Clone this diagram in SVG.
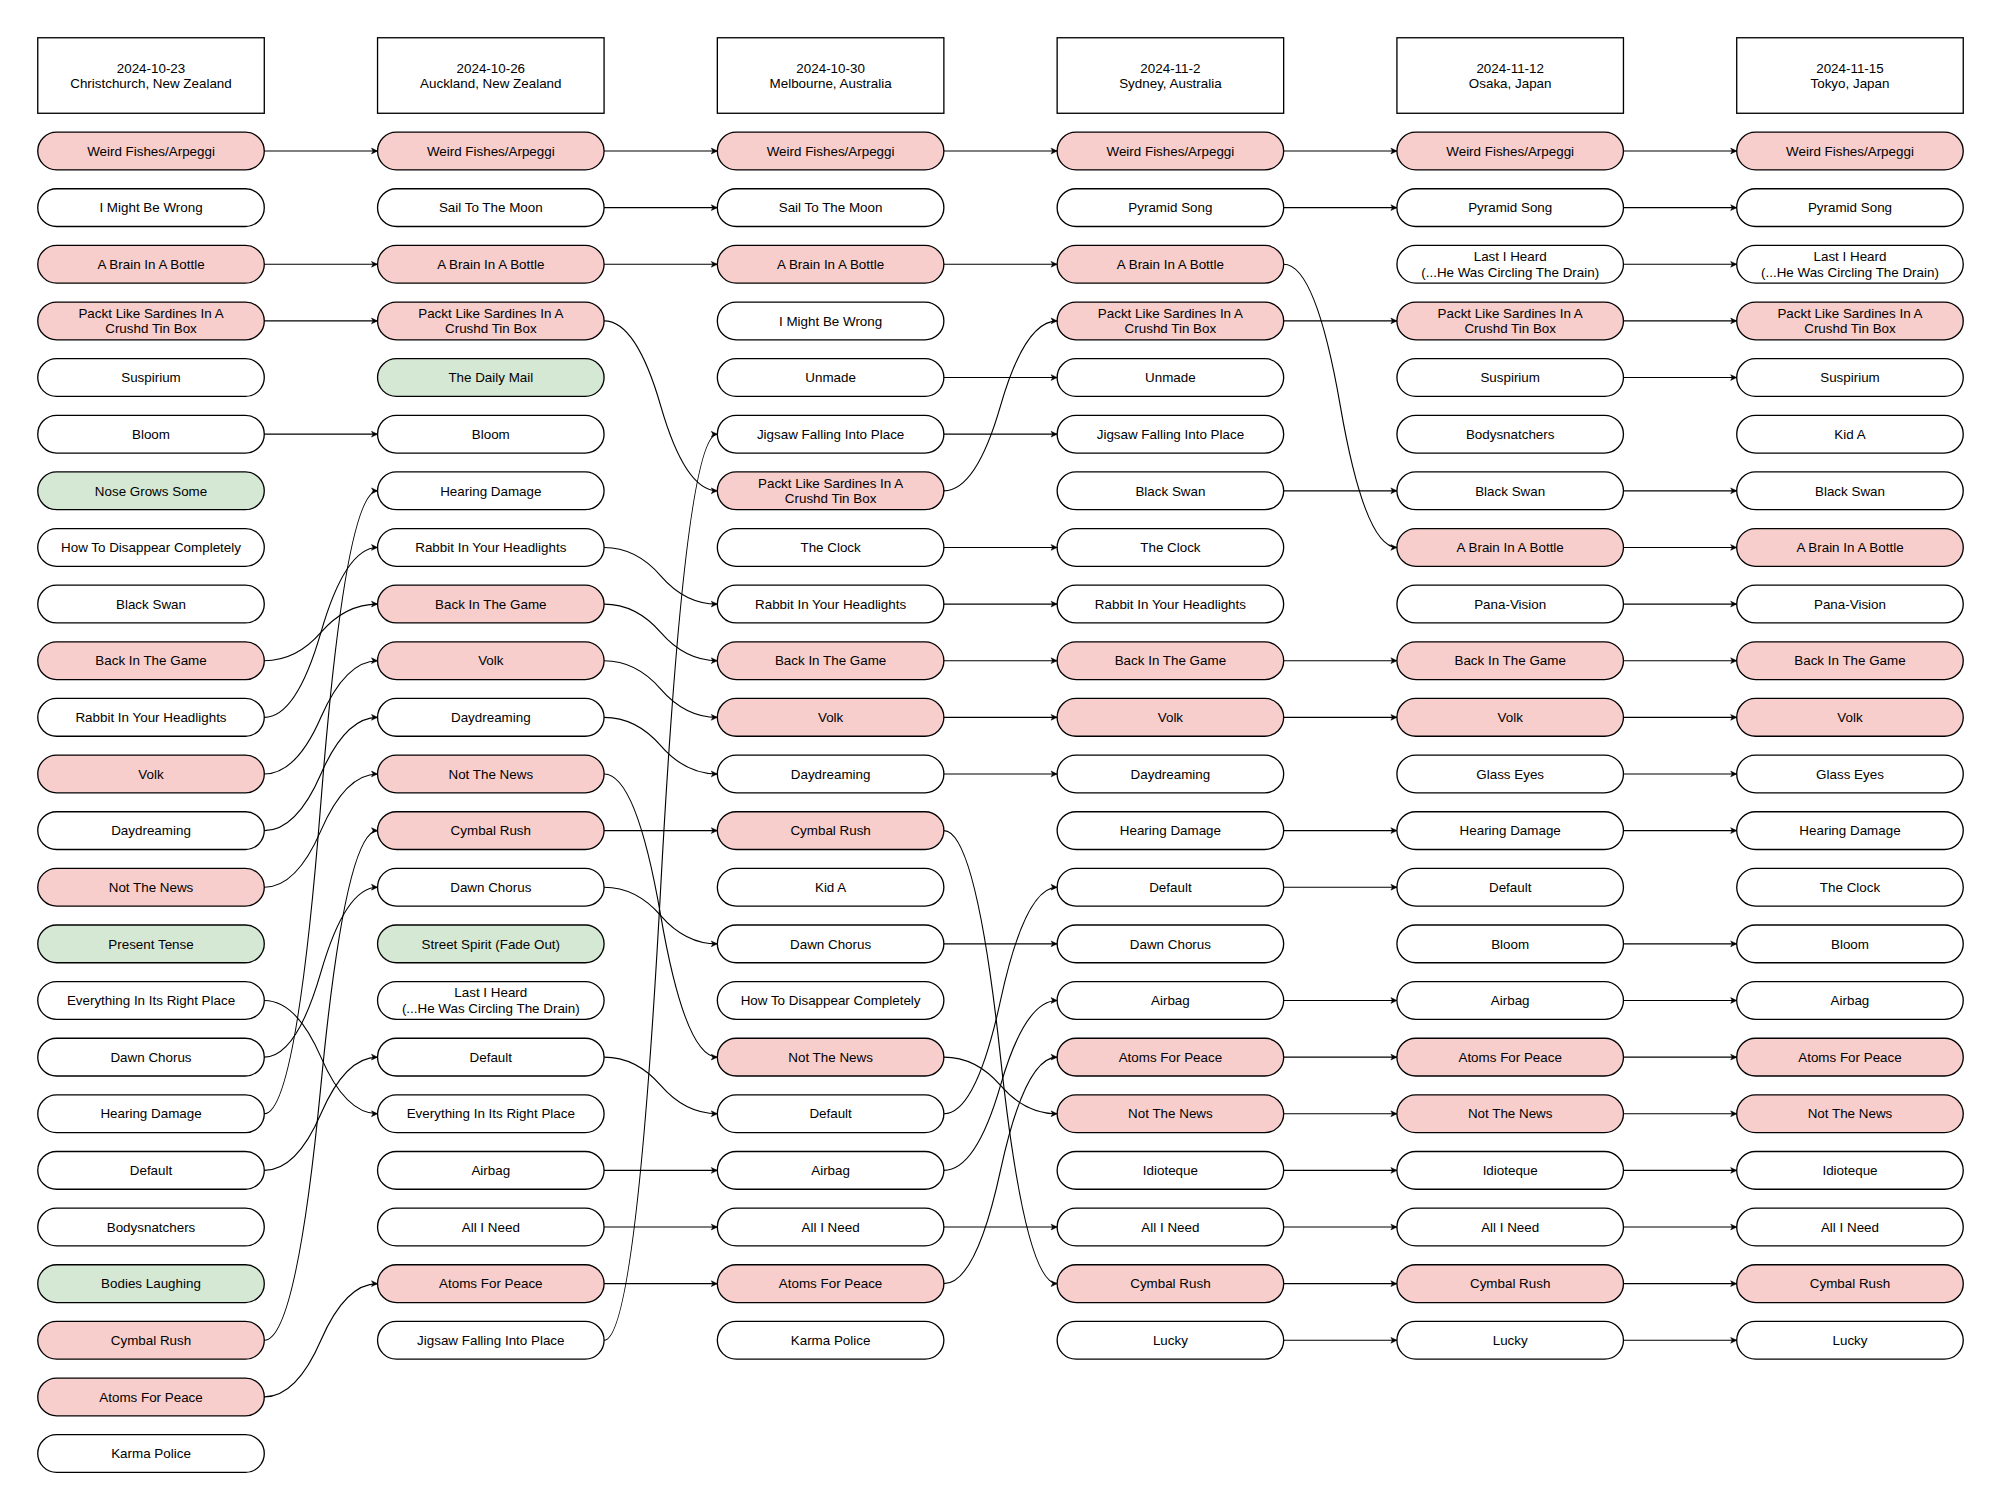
<svg xmlns="http://www.w3.org/2000/svg" width="2001" height="1511" viewBox="0 0 2001 1511">
<defs>
<style>
.node rect{stroke:#000;stroke-width:0.7}
.hdr rect{fill:#fff}
.white rect{fill:#fff}
.pink rect{fill:#f8cecc}
.green rect{fill:#d5e8d4}
text{font-family:"Liberation Sans",Arial,Helvetica,sans-serif;font-size:7.1px;text-anchor:middle;fill:#000}
.edges path{fill:none;stroke:#000;stroke-width:0.6;marker-end:url(#arr)}
</style>
<marker id="arr" markerUnits="userSpaceOnUse" markerWidth="4" markerHeight="4" viewBox="-3 -1.5 3 3" refX="0" refY="0" orient="auto" overflow="visible">
<path d="M0,0 L-2.4,-1.15 L-1.8,0 L-2.4,1.15 Z" fill="#000" stroke="#000" stroke-width="0.2"/>
</marker>
</defs>
<rect width="2001" height="1511" fill="#fff"/>
<g transform="matrix(1.887736 0 0 1.887736 37.755 37.755)">
<!-- headers -->
<g id="h1" class="node hdr"><rect x="0" y="0" width="120" height="40"/><text x="60" y="18.8">2024-10-23</text><text x="60" y="26.8">Christchurch, New Zealand</text></g>
<g id="h2" class="node hdr"><rect x="180" y="0" width="120" height="40"/><text x="240" y="18.8">2024-10-26</text><text x="240" y="26.8">Auckland, New Zealand</text></g>
<g id="h3" class="node hdr"><rect x="360" y="0" width="120" height="40"/><text x="420" y="18.8">2024-10-30</text><text x="420" y="26.8">Melbourne, Australia</text></g>
<g id="h4" class="node hdr"><rect x="540" y="0" width="120" height="40"/><text x="600" y="18.8">2024-11-2</text><text x="600" y="26.8">Sydney, Australia</text></g>
<g id="h5" class="node hdr"><rect x="720" y="0" width="120" height="40"/><text x="780" y="18.8">2024-11-12</text><text x="780" y="26.8">Osaka, Japan</text></g>
<g id="h6" class="node hdr"><rect x="900" y="0" width="120" height="40"/><text x="960" y="18.8">2024-11-15</text><text x="960" y="26.8">Tokyo, Japan</text></g>

<!-- column 1 -->
<g id="c1r0" class="node pink"><rect x="0" y="50" width="120" height="20" rx="10"/><text x="60" y="62.5">Weird Fishes/Arpeggi</text></g>
<g id="c1r1" class="node white"><rect x="0" y="80" width="120" height="20" rx="10"/><text x="60" y="92.5">I Might Be Wrong</text></g>
<g id="c1r2" class="node pink"><rect x="0" y="110" width="120" height="20" rx="10"/><text x="60" y="122.5">A Brain In A Bottle</text></g>
<g id="c1r3" class="node pink"><rect x="0" y="140" width="120" height="20" rx="10"/><text x="60" y="148.4">Packt Like Sardines In A</text><text x="60" y="156.6">Crushd Tin Box</text></g>
<g id="c1r4" class="node white"><rect x="0" y="170" width="120" height="20" rx="10"/><text x="60" y="182.5">Suspirium</text></g>
<g id="c1r5" class="node white"><rect x="0" y="200" width="120" height="20" rx="10"/><text x="60" y="212.5">Bloom</text></g>
<g id="c1r6" class="node green"><rect x="0" y="230" width="120" height="20" rx="10"/><text x="60" y="242.5">Nose Grows Some</text></g>
<g id="c1r7" class="node white"><rect x="0" y="260" width="120" height="20" rx="10"/><text x="60" y="272.5">How To Disappear Completely</text></g>
<g id="c1r8" class="node white"><rect x="0" y="290" width="120" height="20" rx="10"/><text x="60" y="302.5">Black Swan</text></g>
<g id="c1r9" class="node pink"><rect x="0" y="320" width="120" height="20" rx="10"/><text x="60" y="332.5">Back In The Game</text></g>
<g id="c1r10" class="node white"><rect x="0" y="350" width="120" height="20" rx="10"/><text x="60" y="362.5">Rabbit In Your Headlights</text></g>
<g id="c1r11" class="node pink"><rect x="0" y="380" width="120" height="20" rx="10"/><text x="60" y="392.5">Volk</text></g>
<g id="c1r12" class="node white"><rect x="0" y="410" width="120" height="20" rx="10"/><text x="60" y="422.5">Daydreaming</text></g>
<g id="c1r13" class="node pink"><rect x="0" y="440" width="120" height="20" rx="10"/><text x="60" y="452.5">Not The News</text></g>
<g id="c1r14" class="node green"><rect x="0" y="470" width="120" height="20" rx="10"/><text x="60" y="482.5">Present Tense</text></g>
<g id="c1r15" class="node white"><rect x="0" y="500" width="120" height="20" rx="10"/><text x="60" y="512.5">Everything In Its Right Place</text></g>
<g id="c1r16" class="node white"><rect x="0" y="530" width="120" height="20" rx="10"/><text x="60" y="542.5">Dawn Chorus</text></g>
<g id="c1r17" class="node white"><rect x="0" y="560" width="120" height="20" rx="10"/><text x="60" y="572.5">Hearing Damage</text></g>
<g id="c1r18" class="node white"><rect x="0" y="590" width="120" height="20" rx="10"/><text x="60" y="602.5">Default</text></g>
<g id="c1r19" class="node white"><rect x="0" y="620" width="120" height="20" rx="10"/><text x="60" y="632.5">Bodysnatchers</text></g>
<g id="c1r20" class="node green"><rect x="0" y="650" width="120" height="20" rx="10"/><text x="60" y="662.5">Bodies Laughing</text></g>
<g id="c1r21" class="node pink"><rect x="0" y="680" width="120" height="20" rx="10"/><text x="60" y="692.5">Cymbal Rush</text></g>
<g id="c1r22" class="node pink"><rect x="0" y="710" width="120" height="20" rx="10"/><text x="60" y="722.5">Atoms For Peace</text></g>
<g id="c1r23" class="node white"><rect x="0" y="740" width="120" height="20" rx="10"/><text x="60" y="752.5">Karma Police</text></g>

<!-- column 2 -->
<g id="c2r0" class="node pink"><rect x="180" y="50" width="120" height="20" rx="10"/><text x="240" y="62.5">Weird Fishes/Arpeggi</text></g>
<g id="c2r1" class="node white"><rect x="180" y="80" width="120" height="20" rx="10"/><text x="240" y="92.5">Sail To The Moon</text></g>
<g id="c2r2" class="node pink"><rect x="180" y="110" width="120" height="20" rx="10"/><text x="240" y="122.5">A Brain In A Bottle</text></g>
<g id="c2r3" class="node pink"><rect x="180" y="140" width="120" height="20" rx="10"/><text x="240" y="148.4">Packt Like Sardines In A</text><text x="240" y="156.6">Crushd Tin Box</text></g>
<g id="c2r4" class="node green"><rect x="180" y="170" width="120" height="20" rx="10"/><text x="240" y="182.5">The Daily Mail</text></g>
<g id="c2r5" class="node white"><rect x="180" y="200" width="120" height="20" rx="10"/><text x="240" y="212.5">Bloom</text></g>
<g id="c2r6" class="node white"><rect x="180" y="230" width="120" height="20" rx="10"/><text x="240" y="242.5">Hearing Damage</text></g>
<g id="c2r7" class="node white"><rect x="180" y="260" width="120" height="20" rx="10"/><text x="240" y="272.5">Rabbit In Your Headlights</text></g>
<g id="c2r8" class="node pink"><rect x="180" y="290" width="120" height="20" rx="10"/><text x="240" y="302.5">Back In The Game</text></g>
<g id="c2r9" class="node pink"><rect x="180" y="320" width="120" height="20" rx="10"/><text x="240" y="332.5">Volk</text></g>
<g id="c2r10" class="node white"><rect x="180" y="350" width="120" height="20" rx="10"/><text x="240" y="362.5">Daydreaming</text></g>
<g id="c2r11" class="node pink"><rect x="180" y="380" width="120" height="20" rx="10"/><text x="240" y="392.5">Not The News</text></g>
<g id="c2r12" class="node pink"><rect x="180" y="410" width="120" height="20" rx="10"/><text x="240" y="422.5">Cymbal Rush</text></g>
<g id="c2r13" class="node white"><rect x="180" y="440" width="120" height="20" rx="10"/><text x="240" y="452.5">Dawn Chorus</text></g>
<g id="c2r14" class="node green"><rect x="180" y="470" width="120" height="20" rx="10"/><text x="240" y="482.5">Street Spirit (Fade Out)</text></g>
<g id="c2r15" class="node white"><rect x="180" y="500" width="120" height="20" rx="10"/><text x="240" y="508.4">Last I Heard</text><text x="240" y="516.6">(...He Was Circling The Drain)</text></g>
<g id="c2r16" class="node white"><rect x="180" y="530" width="120" height="20" rx="10"/><text x="240" y="542.5">Default</text></g>
<g id="c2r17" class="node white"><rect x="180" y="560" width="120" height="20" rx="10"/><text x="240" y="572.5">Everything In Its Right Place</text></g>
<g id="c2r18" class="node white"><rect x="180" y="590" width="120" height="20" rx="10"/><text x="240" y="602.5">Airbag</text></g>
<g id="c2r19" class="node white"><rect x="180" y="620" width="120" height="20" rx="10"/><text x="240" y="632.5">All I Need</text></g>
<g id="c2r20" class="node pink"><rect x="180" y="650" width="120" height="20" rx="10"/><text x="240" y="662.5">Atoms For Peace</text></g>
<g id="c2r21" class="node white"><rect x="180" y="680" width="120" height="20" rx="10"/><text x="240" y="692.5">Jigsaw Falling Into Place</text></g>

<!-- column 3 -->
<g id="c3r0" class="node pink"><rect x="360" y="50" width="120" height="20" rx="10"/><text x="420" y="62.5">Weird Fishes/Arpeggi</text></g>
<g id="c3r1" class="node white"><rect x="360" y="80" width="120" height="20" rx="10"/><text x="420" y="92.5">Sail To The Moon</text></g>
<g id="c3r2" class="node pink"><rect x="360" y="110" width="120" height="20" rx="10"/><text x="420" y="122.5">A Brain In A Bottle</text></g>
<g id="c3r3" class="node white"><rect x="360" y="140" width="120" height="20" rx="10"/><text x="420" y="152.5">I Might Be Wrong</text></g>
<g id="c3r4" class="node white"><rect x="360" y="170" width="120" height="20" rx="10"/><text x="420" y="182.5">Unmade</text></g>
<g id="c3r5" class="node white"><rect x="360" y="200" width="120" height="20" rx="10"/><text x="420" y="212.5">Jigsaw Falling Into Place</text></g>
<g id="c3r6" class="node pink"><rect x="360" y="230" width="120" height="20" rx="10"/><text x="420" y="238.4">Packt Like Sardines In A</text><text x="420" y="246.6">Crushd Tin Box</text></g>
<g id="c3r7" class="node white"><rect x="360" y="260" width="120" height="20" rx="10"/><text x="420" y="272.5">The Clock</text></g>
<g id="c3r8" class="node white"><rect x="360" y="290" width="120" height="20" rx="10"/><text x="420" y="302.5">Rabbit In Your Headlights</text></g>
<g id="c3r9" class="node pink"><rect x="360" y="320" width="120" height="20" rx="10"/><text x="420" y="332.5">Back In The Game</text></g>
<g id="c3r10" class="node pink"><rect x="360" y="350" width="120" height="20" rx="10"/><text x="420" y="362.5">Volk</text></g>
<g id="c3r11" class="node white"><rect x="360" y="380" width="120" height="20" rx="10"/><text x="420" y="392.5">Daydreaming</text></g>
<g id="c3r12" class="node pink"><rect x="360" y="410" width="120" height="20" rx="10"/><text x="420" y="422.5">Cymbal Rush</text></g>
<g id="c3r13" class="node white"><rect x="360" y="440" width="120" height="20" rx="10"/><text x="420" y="452.5">Kid A</text></g>
<g id="c3r14" class="node white"><rect x="360" y="470" width="120" height="20" rx="10"/><text x="420" y="482.5">Dawn Chorus</text></g>
<g id="c3r15" class="node white"><rect x="360" y="500" width="120" height="20" rx="10"/><text x="420" y="512.5">How To Disappear Completely</text></g>
<g id="c3r16" class="node pink"><rect x="360" y="530" width="120" height="20" rx="10"/><text x="420" y="542.5">Not The News</text></g>
<g id="c3r17" class="node white"><rect x="360" y="560" width="120" height="20" rx="10"/><text x="420" y="572.5">Default</text></g>
<g id="c3r18" class="node white"><rect x="360" y="590" width="120" height="20" rx="10"/><text x="420" y="602.5">Airbag</text></g>
<g id="c3r19" class="node white"><rect x="360" y="620" width="120" height="20" rx="10"/><text x="420" y="632.5">All I Need</text></g>
<g id="c3r20" class="node pink"><rect x="360" y="650" width="120" height="20" rx="10"/><text x="420" y="662.5">Atoms For Peace</text></g>
<g id="c3r21" class="node white"><rect x="360" y="680" width="120" height="20" rx="10"/><text x="420" y="692.5">Karma Police</text></g>

<!-- column 4 -->
<g id="c4r0" class="node pink"><rect x="540" y="50" width="120" height="20" rx="10"/><text x="600" y="62.5">Weird Fishes/Arpeggi</text></g>
<g id="c4r1" class="node white"><rect x="540" y="80" width="120" height="20" rx="10"/><text x="600" y="92.5">Pyramid Song</text></g>
<g id="c4r2" class="node pink"><rect x="540" y="110" width="120" height="20" rx="10"/><text x="600" y="122.5">A Brain In A Bottle</text></g>
<g id="c4r3" class="node pink"><rect x="540" y="140" width="120" height="20" rx="10"/><text x="600" y="148.4">Packt Like Sardines In A</text><text x="600" y="156.6">Crushd Tin Box</text></g>
<g id="c4r4" class="node white"><rect x="540" y="170" width="120" height="20" rx="10"/><text x="600" y="182.5">Unmade</text></g>
<g id="c4r5" class="node white"><rect x="540" y="200" width="120" height="20" rx="10"/><text x="600" y="212.5">Jigsaw Falling Into Place</text></g>
<g id="c4r6" class="node white"><rect x="540" y="230" width="120" height="20" rx="10"/><text x="600" y="242.5">Black Swan</text></g>
<g id="c4r7" class="node white"><rect x="540" y="260" width="120" height="20" rx="10"/><text x="600" y="272.5">The Clock</text></g>
<g id="c4r8" class="node white"><rect x="540" y="290" width="120" height="20" rx="10"/><text x="600" y="302.5">Rabbit In Your Headlights</text></g>
<g id="c4r9" class="node pink"><rect x="540" y="320" width="120" height="20" rx="10"/><text x="600" y="332.5">Back In The Game</text></g>
<g id="c4r10" class="node pink"><rect x="540" y="350" width="120" height="20" rx="10"/><text x="600" y="362.5">Volk</text></g>
<g id="c4r11" class="node white"><rect x="540" y="380" width="120" height="20" rx="10"/><text x="600" y="392.5">Daydreaming</text></g>
<g id="c4r12" class="node white"><rect x="540" y="410" width="120" height="20" rx="10"/><text x="600" y="422.5">Hearing Damage</text></g>
<g id="c4r13" class="node white"><rect x="540" y="440" width="120" height="20" rx="10"/><text x="600" y="452.5">Default</text></g>
<g id="c4r14" class="node white"><rect x="540" y="470" width="120" height="20" rx="10"/><text x="600" y="482.5">Dawn Chorus</text></g>
<g id="c4r15" class="node white"><rect x="540" y="500" width="120" height="20" rx="10"/><text x="600" y="512.5">Airbag</text></g>
<g id="c4r16" class="node pink"><rect x="540" y="530" width="120" height="20" rx="10"/><text x="600" y="542.5">Atoms For Peace</text></g>
<g id="c4r17" class="node pink"><rect x="540" y="560" width="120" height="20" rx="10"/><text x="600" y="572.5">Not The News</text></g>
<g id="c4r18" class="node white"><rect x="540" y="590" width="120" height="20" rx="10"/><text x="600" y="602.5">Idioteque</text></g>
<g id="c4r19" class="node white"><rect x="540" y="620" width="120" height="20" rx="10"/><text x="600" y="632.5">All I Need</text></g>
<g id="c4r20" class="node pink"><rect x="540" y="650" width="120" height="20" rx="10"/><text x="600" y="662.5">Cymbal Rush</text></g>
<g id="c4r21" class="node white"><rect x="540" y="680" width="120" height="20" rx="10"/><text x="600" y="692.5">Lucky</text></g>

<!-- column 5 -->
<g id="c5r0" class="node pink"><rect x="720" y="50" width="120" height="20" rx="10"/><text x="780" y="62.5">Weird Fishes/Arpeggi</text></g>
<g id="c5r1" class="node white"><rect x="720" y="80" width="120" height="20" rx="10"/><text x="780" y="92.5">Pyramid Song</text></g>
<g id="c5r2" class="node white"><rect x="720" y="110" width="120" height="20" rx="10"/><text x="780" y="118.4">Last I Heard</text><text x="780" y="126.6">(...He Was Circling The Drain)</text></g>
<g id="c5r3" class="node pink"><rect x="720" y="140" width="120" height="20" rx="10"/><text x="780" y="148.4">Packt Like Sardines In A</text><text x="780" y="156.6">Crushd Tin Box</text></g>
<g id="c5r4" class="node white"><rect x="720" y="170" width="120" height="20" rx="10"/><text x="780" y="182.5">Suspirium</text></g>
<g id="c5r5" class="node white"><rect x="720" y="200" width="120" height="20" rx="10"/><text x="780" y="212.5">Bodysnatchers</text></g>
<g id="c5r6" class="node white"><rect x="720" y="230" width="120" height="20" rx="10"/><text x="780" y="242.5">Black Swan</text></g>
<g id="c5r7" class="node pink"><rect x="720" y="260" width="120" height="20" rx="10"/><text x="780" y="272.5">A Brain In A Bottle</text></g>
<g id="c5r8" class="node white"><rect x="720" y="290" width="120" height="20" rx="10"/><text x="780" y="302.5">Pana-Vision</text></g>
<g id="c5r9" class="node pink"><rect x="720" y="320" width="120" height="20" rx="10"/><text x="780" y="332.5">Back In The Game</text></g>
<g id="c5r10" class="node pink"><rect x="720" y="350" width="120" height="20" rx="10"/><text x="780" y="362.5">Volk</text></g>
<g id="c5r11" class="node white"><rect x="720" y="380" width="120" height="20" rx="10"/><text x="780" y="392.5">Glass Eyes</text></g>
<g id="c5r12" class="node white"><rect x="720" y="410" width="120" height="20" rx="10"/><text x="780" y="422.5">Hearing Damage</text></g>
<g id="c5r13" class="node white"><rect x="720" y="440" width="120" height="20" rx="10"/><text x="780" y="452.5">Default</text></g>
<g id="c5r14" class="node white"><rect x="720" y="470" width="120" height="20" rx="10"/><text x="780" y="482.5">Bloom</text></g>
<g id="c5r15" class="node white"><rect x="720" y="500" width="120" height="20" rx="10"/><text x="780" y="512.5">Airbag</text></g>
<g id="c5r16" class="node pink"><rect x="720" y="530" width="120" height="20" rx="10"/><text x="780" y="542.5">Atoms For Peace</text></g>
<g id="c5r17" class="node pink"><rect x="720" y="560" width="120" height="20" rx="10"/><text x="780" y="572.5">Not The News</text></g>
<g id="c5r18" class="node white"><rect x="720" y="590" width="120" height="20" rx="10"/><text x="780" y="602.5">Idioteque</text></g>
<g id="c5r19" class="node white"><rect x="720" y="620" width="120" height="20" rx="10"/><text x="780" y="632.5">All I Need</text></g>
<g id="c5r20" class="node pink"><rect x="720" y="650" width="120" height="20" rx="10"/><text x="780" y="662.5">Cymbal Rush</text></g>
<g id="c5r21" class="node white"><rect x="720" y="680" width="120" height="20" rx="10"/><text x="780" y="692.5">Lucky</text></g>

<!-- column 6 -->
<g id="c6r0" class="node pink"><rect x="900" y="50" width="120" height="20" rx="10"/><text x="960" y="62.5">Weird Fishes/Arpeggi</text></g>
<g id="c6r1" class="node white"><rect x="900" y="80" width="120" height="20" rx="10"/><text x="960" y="92.5">Pyramid Song</text></g>
<g id="c6r2" class="node white"><rect x="900" y="110" width="120" height="20" rx="10"/><text x="960" y="118.4">Last I Heard</text><text x="960" y="126.6">(...He Was Circling The Drain)</text></g>
<g id="c6r3" class="node pink"><rect x="900" y="140" width="120" height="20" rx="10"/><text x="960" y="148.4">Packt Like Sardines In A</text><text x="960" y="156.6">Crushd Tin Box</text></g>
<g id="c6r4" class="node white"><rect x="900" y="170" width="120" height="20" rx="10"/><text x="960" y="182.5">Suspirium</text></g>
<g id="c6r5" class="node white"><rect x="900" y="200" width="120" height="20" rx="10"/><text x="960" y="212.5">Kid A</text></g>
<g id="c6r6" class="node white"><rect x="900" y="230" width="120" height="20" rx="10"/><text x="960" y="242.5">Black Swan</text></g>
<g id="c6r7" class="node pink"><rect x="900" y="260" width="120" height="20" rx="10"/><text x="960" y="272.5">A Brain In A Bottle</text></g>
<g id="c6r8" class="node white"><rect x="900" y="290" width="120" height="20" rx="10"/><text x="960" y="302.5">Pana-Vision</text></g>
<g id="c6r9" class="node pink"><rect x="900" y="320" width="120" height="20" rx="10"/><text x="960" y="332.5">Back In The Game</text></g>
<g id="c6r10" class="node pink"><rect x="900" y="350" width="120" height="20" rx="10"/><text x="960" y="362.5">Volk</text></g>
<g id="c6r11" class="node white"><rect x="900" y="380" width="120" height="20" rx="10"/><text x="960" y="392.5">Glass Eyes</text></g>
<g id="c6r12" class="node white"><rect x="900" y="410" width="120" height="20" rx="10"/><text x="960" y="422.5">Hearing Damage</text></g>
<g id="c6r13" class="node white"><rect x="900" y="440" width="120" height="20" rx="10"/><text x="960" y="452.5">The Clock</text></g>
<g id="c6r14" class="node white"><rect x="900" y="470" width="120" height="20" rx="10"/><text x="960" y="482.5">Bloom</text></g>
<g id="c6r15" class="node white"><rect x="900" y="500" width="120" height="20" rx="10"/><text x="960" y="512.5">Airbag</text></g>
<g id="c6r16" class="node pink"><rect x="900" y="530" width="120" height="20" rx="10"/><text x="960" y="542.5">Atoms For Peace</text></g>
<g id="c6r17" class="node pink"><rect x="900" y="560" width="120" height="20" rx="10"/><text x="960" y="572.5">Not The News</text></g>
<g id="c6r18" class="node white"><rect x="900" y="590" width="120" height="20" rx="10"/><text x="960" y="602.5">Idioteque</text></g>
<g id="c6r19" class="node white"><rect x="900" y="620" width="120" height="20" rx="10"/><text x="960" y="632.5">All I Need</text></g>
<g id="c6r20" class="node pink"><rect x="900" y="650" width="120" height="20" rx="10"/><text x="960" y="662.5">Cymbal Rush</text></g>
<g id="c6r21" class="node white"><rect x="900" y="680" width="120" height="20" rx="10"/><text x="960" y="692.5">Lucky</text></g>

<g id="connectors" class="edges">
<!-- col1 -> col2 -->
<path d="M120 60 H180"/>
<path d="M120 120 H180"/>
<path d="M120 150 H180"/>
<path d="M120 210 H180"/>
<path d="M120 330 Q137 330 150 315 Q163 300 180 300"/>
<path d="M120 360 Q137 360 150 315 Q163 270 180 270"/>
<path d="M120 390 Q137 390 150 360 Q163 330 180 330"/>
<path d="M120 420 Q137 420 150 390 Q163 360 180 360"/>
<path d="M120 450 Q137 450 150 420 Q163 390 180 390"/>
<path d="M120 510 Q137 510 150 540 Q163 570 180 570"/>
<path d="M120 540 Q137 540 150 495 Q163 450 180 450"/>
<path d="M120 570 Q137 570 150 405 Q163 240 180 240"/>
<path d="M120 600 Q137 600 150 570 Q163 540 180 540"/>
<path d="M120 690 Q137 690 150 555 Q163 420 180 420"/>
<path d="M120 720 Q137 720 150 690 Q163 660 180 660"/>
<!-- col2 -> col3 -->
<path d="M300 60 H360"/>
<path d="M300 90 H360"/>
<path d="M300 120 H360"/>
<path d="M300 150 Q317 150 330 195 Q343 240 360 240"/>
<path d="M300 270 Q317 270 330 285 Q343 300 360 300"/>
<path d="M300 300 Q317 300 330 315 Q343 330 360 330"/>
<path d="M300 330 Q317 330 330 345 Q343 360 360 360"/>
<path d="M300 360 Q317 360 330 375 Q343 390 360 390"/>
<path d="M300 390 Q317 390 330 465 Q343 540 360 540"/>
<path d="M300 420 H360"/>
<path d="M300 450 Q317 450 330 465 Q343 480 360 480"/>
<path d="M300 540 Q317 540 330 555 Q343 570 360 570"/>
<path d="M300 600 H360"/>
<path d="M300 630 H360"/>
<path d="M300 660 H360"/>
<path d="M300 690 Q317 690 330 450 Q343 210 360 210"/>
<!-- col3 -> col4 -->
<path d="M480 60 H540"/>
<path d="M480 120 H540"/>
<path d="M480 180 H540"/>
<path d="M480 210 H540"/>
<path d="M480 240 Q497 240 510 195 Q523 150 540 150"/>
<path d="M480 270 H540"/>
<path d="M480 300 H540"/>
<path d="M480 330 H540"/>
<path d="M480 360 H540"/>
<path d="M480 390 H540"/>
<path d="M480 420 Q497 420 510 540 Q523 660 540 660"/>
<path d="M480 480 H540"/>
<path d="M480 540 Q497 540 510 555 Q523 570 540 570"/>
<path d="M480 570 Q497 570 510 510 Q523 450 540 450"/>
<path d="M480 600 Q497 600 510 555 Q523 510 540 510"/>
<path d="M480 630 H540"/>
<path d="M480 660 Q497 660 510 600 Q523 540 540 540"/>
<!-- col4 -> col5 -->
<path d="M660 60 H720"/>
<path d="M660 90 H720"/>
<path d="M660 120 Q677 120 690 195 Q703 270 720 270"/>
<path d="M660 150 H720"/>
<path d="M660 240 H720"/>
<path d="M660 330 H720"/>
<path d="M660 360 H720"/>
<path d="M660 420 H720"/>
<path d="M660 450 H720"/>
<path d="M660 510 H720"/>
<path d="M660 540 H720"/>
<path d="M660 570 H720"/>
<path d="M660 600 H720"/>
<path d="M660 630 H720"/>
<path d="M660 660 H720"/>
<path d="M660 690 H720"/>
<!-- col5 -> col6 -->
<path d="M840 60 H900"/>
<path d="M840 90 H900"/>
<path d="M840 120 H900"/>
<path d="M840 150 H900"/>
<path d="M840 180 H900"/>
<path d="M840 240 H900"/>
<path d="M840 270 H900"/>
<path d="M840 300 H900"/>
<path d="M840 330 H900"/>
<path d="M840 360 H900"/>
<path d="M840 390 H900"/>
<path d="M840 420 H900"/>
<path d="M840 480 H900"/>
<path d="M840 510 H900"/>
<path d="M840 540 H900"/>
<path d="M840 570 H900"/>
<path d="M840 600 H900"/>
<path d="M840 630 H900"/>
<path d="M840 660 H900"/>
<path d="M840 690 H900"/>
</g>
</g>
</svg>
